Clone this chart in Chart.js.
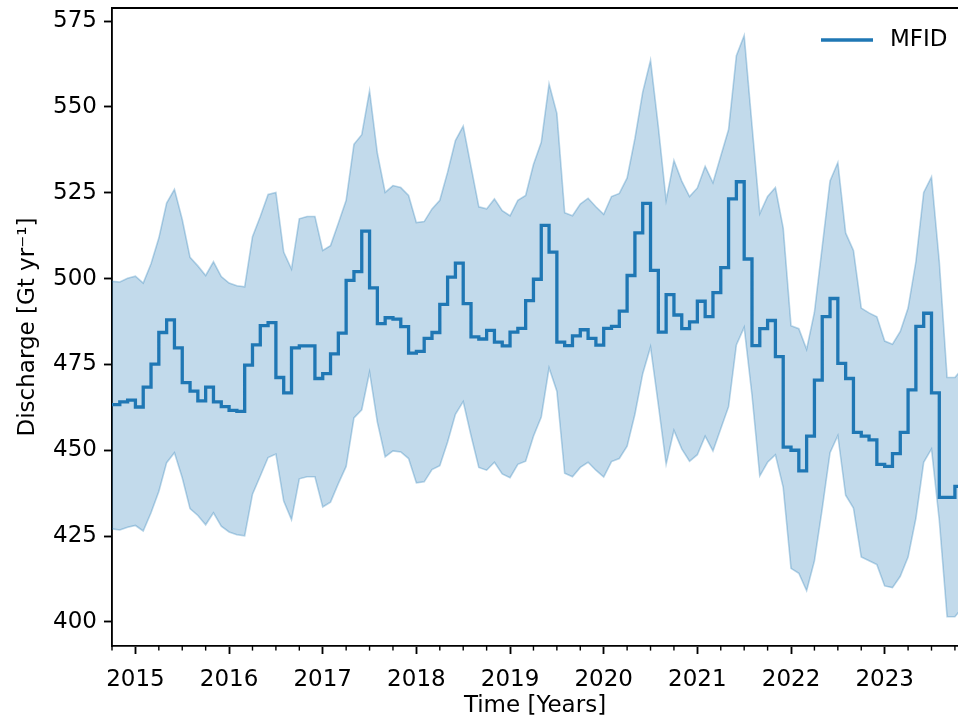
<!DOCTYPE html>
<html>
<head>
<meta charset="utf-8">
<script src="https://cdn.jsdelivr.net/npm/chart.js@4.4.1/dist/chart.umd.min.js"></script>
<style>
    html, body { margin: 0; padding: 0; background: #fff; overflow: hidden; }
    #wrap { width: 958px; height: 720px; }
</style>
</head>
<body>
<div id="wrap"><canvas id="dischargeChart"></canvas></div>
<script>
"use strict"

//första månaden i serien (okt 2014) som decimalår, sen en punkt per månad
const startYear = 2014.75;

//MFID, månadsvärden i Gt/år
const mfid = [463.3, 463.3, 464.1, 464.6, 462.6, 468.4, 475.1, 484.3, 488.0, 479.8,
    469.7, 467.2, 464.4, 468.4, 464.1, 462.7, 461.6, 461.3, 474.8, 480.7,
    486.3, 487.2, 471.2, 466.7, 479.8, 480.4, 480.4, 470.9, 472.3, 478.1,
    484.1, 499.5, 502.0, 513.8, 497.3, 486.9, 488.6, 488.2, 486.0, 478.3,
    478.8, 482.6, 484.3, 492.5, 500.4, 504.5, 492.7, 483.0, 482.4, 484.9,
    481.5, 480.4, 484.4, 485.5, 493.6, 499.8, 515.5, 507.7, 481.5, 480.5,
    483.3, 485.1, 482.6, 480.6, 485.5, 486.1, 490.5, 500.9, 513.3, 521.9,
    502.4, 484.4, 495.3, 489.4, 485.4, 487.4, 493.4, 488.9, 495.9, 503.2,
    523.2, 528.2, 505.7, 480.5, 485.4, 487.8, 477.3, 450.9, 450.0, 444.0,
    454.1, 470.4, 488.9, 494.2, 475.3, 470.9, 455.2, 454.1, 453.0, 445.9,
    445.3, 449.0, 455.2, 467.6, 486.1, 489.9, 466.7, 436.3, 436.3, 439.5];

//osäkerhetsbandets övre kant
const upper = [499.2, 499.0, 500.1, 500.7, 498.7, 504.3, 511.8, 522.0, 526.0, 517.2,
    506.2, 503.7, 500.9, 504.9, 500.6, 498.7, 497.9, 497.6, 512.2, 518.1,
    524.5, 525.1, 507.7, 502.8, 517.4, 518.1, 518.1, 508.2, 509.6, 516.1,
    522.8, 539.1, 541.9, 554.7, 536.5, 525.1, 527.1, 526.5, 524.2, 516.3,
    516.6, 520.3, 522.8, 531.0, 540.2, 544.4, 532.6, 520.9, 520.3, 523.2,
    519.8, 518.3, 522.8, 524.2, 533.2, 539.7, 556.7, 548.1, 519.2, 518.3,
    521.7, 523.4, 520.9, 518.7, 523.9, 524.8, 529.3, 540.8, 554.3, 563.6,
    544.2, 522.8, 534.4, 528.4, 523.9, 526.4, 532.7, 527.9, 535.7, 543.4,
    564.9, 570.8, 544.7, 518.9, 523.9, 526.5, 514.7, 486.3, 485.4, 479.4,
    490.2, 509.3, 528.4, 533.8, 513.3, 508.2, 491.4, 490.0, 488.9, 481.8,
    480.9, 484.6, 491.4, 504.9, 525.1, 529.6, 504.9, 471.2, 471.2, 474.0];

//osäkerhetsbandets undre kant
const lower = [427.1, 426.8, 427.6, 428.1, 426.5, 431.8, 438.0, 446.4, 449.3, 442.0,
    433.0, 431.0, 428.3, 431.8, 427.9, 426.2, 425.4, 425.1, 437.2, 442.5,
    447.9, 448.9, 435.2, 429.8, 441.7, 442.3, 442.3, 433.5, 434.9, 440.3,
    445.3, 459.4, 461.8, 472.8, 458.2, 448.1, 449.8, 449.5, 447.6, 440.5,
    440.8, 444.4, 445.5, 452.4, 460.5, 464.2, 454.3, 445.0, 444.2, 446.5,
    443.1, 442.0, 445.9, 446.8, 454.1, 459.7, 474.0, 467.2, 443.3, 442.3,
    445.0, 446.5, 444.2, 442.2, 446.7, 447.6, 451.2, 460.5, 472.3, 480.1,
    463.3, 445.9, 455.8, 450.4, 446.8, 448.7, 454.1, 449.8, 456.3, 462.7,
    480.7, 485.8, 466.1, 442.5, 446.5, 448.7, 439.2, 415.6, 414.2, 409.1,
    417.8, 433.0, 449.3, 454.3, 436.9, 433.2, 418.9, 417.8, 416.7, 410.5,
    410.0, 413.3, 418.9, 430.2, 446.5, 450.4, 429.6, 401.5, 401.5, 404.3];

//tick-etiketter
const yearTicks = [2015, 2016, 2017, 2018, 2019, 2020, 2021, 2022, 2023];
const dischargeTicks = [400, 425, 450, 475, 500, 525, 550, 575];

const chartEl = document.getElementById("dischargeChart");
const blue = "#1f77b4";
const font = { family: "DejaVu Sans", size: 23 };

//gör om en värdelista till {x, y}-punkter
function toPoints(values) {
    return values.map((v, i) => ({ x: startYear + i / 12, y: v }));
}

/**
 * Ritar övre ramlinjen, små ticks på x-axeln och legenden.
 */
const framePlugin = {
    id: "frame",
    afterDraw(chart) {
        const ctx = chart.ctx;
        const area = chart.chartArea;
        const xScale = chart.scales.x;

        ctx.save();
        ctx.strokeStyle = "#000";
        ctx.lineWidth = 1.85;
        ctx.beginPath();
        ctx.moveTo(area.left - 0.9, area.top);
        ctx.lineTo(area.right, area.top);
        ctx.stroke();

        //kvartals-ticks
        ctx.lineWidth = 1.4;
        for (let q = Math.ceil(xScale.min * 4) / 4; q <= xScale.max; q += 0.25) {
            if (Number.isInteger(q)) continue;
            const px = xScale.getPixelForValue(q);
            ctx.beginPath();
            ctx.moveTo(px, area.bottom);
            ctx.lineTo(px, area.bottom + 4.6);
            ctx.stroke();
        }

        //legend
        ctx.strokeStyle = blue;
        ctx.lineWidth = 3.3;
        ctx.beginPath();
        ctx.moveTo(area.right - 137, area.top + 32);
        ctx.lineTo(area.right - 85, area.top + 32);
        ctx.stroke();
        ctx.fillStyle = "#000";
        ctx.font = "23px 'DejaVu Sans'";
        ctx.textBaseline = "middle";
        ctx.fillText(chart.data.datasets[0].label, area.right - 68, area.top + 32);
        ctx.restore();
    }
};

new Chart(chartEl, {
    type: "line",
    data: {
        datasets: [{
            label: "MFID",
            data: toPoints(mfid),
            stepped: "after",
            borderColor: blue,
            borderWidth: 3.3,
            pointRadius: 0,
            fill: false
        }, {
            label: "upper",
            data: toPoints(upper),
            borderColor: "rgba(31, 119, 180, 0.3)",
            borderWidth: 1.6,
            backgroundColor: "rgba(31, 119, 180, 0.27)",
            pointRadius: 0,
            fill: "+1"
        }, {
            label: "lower",
            data: toPoints(lower),
            borderColor: "rgba(31, 119, 180, 0.3)",
            borderWidth: 1.6,
            pointRadius: 0,
            fill: false
        }]
    },
    options: {
        responsive: true,
        maintainAspectRatio: false,
        animation: false,
        layout: { padding: { top: 8, right: 0, bottom: 0, left: 0 } },
        plugins: {
            legend: { display: false },
            tooltip: { enabled: false }
        },
        scales: {
            x: {
                type: "linear",
                min: startYear,
                max: 2023.783,
                afterBuildTicks: (scale) => { scale.ticks = yearTicks.map(v => ({ value: v })); },
                afterFit: (scale) => {
                    scale.height = 74;
                    scale.paddingLeft = 0;
                    scale.paddingRight = 0;
                },
                ticks: {
                    callback: (v) => String(v),
                    font: font,
                    color: "#000",
                    padding: 12,
                    maxRotation: 0,
                    autoSkip: false
                },
                grid: { drawOnChartArea: false, tickLength: 8, tickWidth: 1.85, tickColor: "#000" },
                border: { color: "#000", width: 1.85 },
                title: { display: true, text: "Time [Years]", font: font, color: "#000", padding: { top: 0, bottom: 0 } }
            },
            y: {
                min: 393,
                max: 578.8,
                afterBuildTicks: (scale) => { scale.ticks = dischargeTicks.map(v => ({ value: v })); },
                afterFit: (scale) => {
                    scale.width = 112;
                    scale.paddingTop = 0;
                    scale.paddingBottom = 0;
                },
                ticks: {
                    callback: (v) => String(v),
                    font: font,
                    color: "#000",
                    padding: 7
                },
                grid: { drawOnChartArea: false, tickLength: 8, tickWidth: 1.85, tickColor: "#000" },
                border: { color: "#000", width: 1.85 },
                title: { display: true, text: "Discharge [Gt yr\u207B\u00B9]", font: font, color: "#000", padding: { top: 14, bottom: 0 } }
            }
        }
    },
    plugins: [framePlugin]
});
</script>
</body>
</html>
